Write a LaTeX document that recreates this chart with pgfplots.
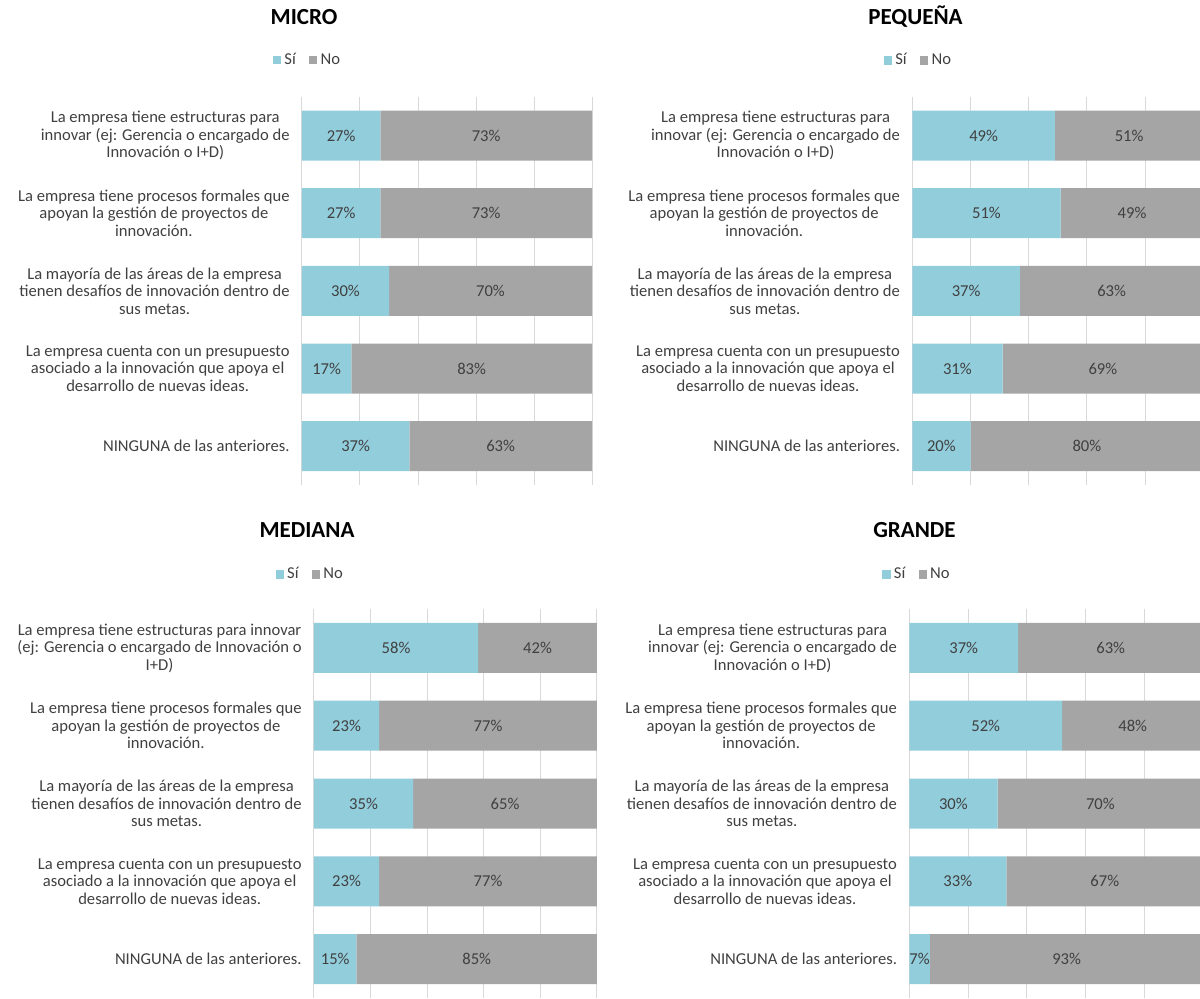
\documentclass[border=0pt]{standalone}
\usepackage{fontspec}
\setmainfont{Carlito}
\usepackage{pgfplots}
\pgfplotsset{compat=1.18}
\usepackage{pgfplotstable}

\definecolor{sicol}{HTML}{92CDDC}
\definecolor{nocol}{HTML}{A5A5A5}
\definecolor{gridcol}{HTML}{D9D9D9}
\definecolor{txtcol}{HTML}{404040}

% Si / No percentages, one table per company size
\pgfplotstableread{
cat si no
1 27 73
2 27 73
3 30 70
4 17 83
5 37 63
}\micro
\pgfplotstableread{
cat si no
1 49 51
2 51 49
3 37 63
4 31 69
5 20 80
}\pequena
\pgfplotstableread{
cat si no
1 58 42
2 23 77
3 35 65
4 23 77
5 15 85
}\mediana
\pgfplotstableread{
cat si no
1 37 63
2 52 48
3 30 70
4 33 67
5 7 93
}\grande

\newcommand{\lblfont}{\fontsize{8.3}{8.75}\selectfont}

\pgfplotsset{
  base/.style={
    scale only axis, width=#1pt,
    xmin=0, xmax=100, ymin=0.5, ymax=5.5, y dir=reverse,
  },
  panel/.style={
    base=#1,
    xbar stacked, bar width=25pt,
    xtick={0,20,...,100}, xticklabels={},
    ytick={1,...,5},
    xmajorgrids, major grid style={draw=gridcol, line width=0.5pt},
    axis line style={draw=none},
    tick style={draw=none},
    yticklabel style={align=center, font=\lblfont, text=txtcol, inner sep=0pt, xshift=-6pt},
    legend columns=2,
    legend image code/.code={\fill[##1, draw=none] (0pt,-2.1pt) rectangle (4.2pt,2.1pt);},
    legend style={draw=none, fill=none, font=\lblfont, text=txtcol, anchor=center,
      inner sep=0pt, nodes={inner xsep=1.6pt},
      /tikz/every even column/.append style={column sep=5pt}},
  },
  labels/.style={
    base=#1, hide axis,
    point meta=explicit,
    nodes near coords={\pgfmathprintnumber[assume math mode=true]{\pgfplotspointmeta}\%},
    every node near coord/.append style={anchor=center, font=\lblfont, text=txtcol, inner sep=0pt},
  },
  lbl/.style={only marks, mark=*, mark options={draw=none, fill=none}, mark size=0pt},
}

% #1,#2 = north west corner (pt), #3 = width (pt), #4 = height (pt),
% #5 = table, #6,#7 = legend position, #8 = first category label
\newcommand{\panel}[8]{%
\begin{axis}[panel=#3, at={(#1pt,#2pt)}, anchor=north west, height=#4pt,
  legend style={at={(axis description cs:#6,#7)}},
  yticklabels={
    {#8},
    {La empresa tiene procesos formales que\\apoyan la gestión de proyectos de\\innovación.},
    {La mayoría de las áreas de la empresa\\tienen desafíos de innovación dentro de\\sus metas.},
    {La empresa cuenta con un presupuesto\\asociado a la innovación que apoya el\\desarrollo de nuevas ideas.},
    {NINGUNA de las anteriores.}}]
  \addplot[fill=sicol, draw=none] table[x=si, y=cat]{#5};
  \addplot[fill=nocol, draw=none] table[x=no, y=cat]{#5};
  \legend{Sí, No}
\end{axis}
\begin{axis}[labels=#3, at={(#1pt,#2pt)}, anchor=north west, height=#4pt]
  \addplot[lbl] table[x expr=\thisrow{si}/2, y=cat, meta=si]{#5};
  \addplot[lbl] table[x expr=\thisrow{si}+\thisrow{no}/2, y=cat, meta=no]{#5};
\end{axis}}

\begin{document}
\begin{tikzpicture}
\useasboundingbox (0,0) rectangle (600pt,-499pt);
\clip (0,0) rectangle (600pt,-499pt);

\panel{151}{-48.35}{145}{194.15}{\micro}{0.021}{1.094}
  {La empresa tiene estructuras para\\innovar (ej: Gerencia o encargado de\\Innovación o I+D)}
\panel{456.15}{-48.35}{145.5}{194.15}{\pequena}{0.023}{1.093}
  {La empresa tiene estructuras para\\innovar (ej: Gerencia o encargado de\\Innovación o I+D)}
\panel{157}{-304.5}{141.5}{194.5}{\mediana}{-0.011}{1.089}
  {La empresa tiene estructuras para innovar\\(ej: Gerencia o encargado de Innovación o\\I+D)}
\panel{454.65}{-304.5}{147}{194.5}{\grande}{0.028}{1.089}
  {La empresa tiene estructuras para\\innovar (ej: Gerencia o encargado de\\Innovación o I+D)}

\begin{scope}[every node/.style={anchor=base, font=\fontsize{11.5}{12}\selectfont\bfseries, inner sep=0pt}]
  \node at (152pt,-12pt) {MICRO};
  \node at (457.75pt,-12pt) {PEQUEÑA};
  \node at (153.5pt,-268.5pt) {MEDIANA};
  \node at (457.25pt,-268.5pt) {GRANDE};
\end{scope}
\end{tikzpicture}
\end{document}
